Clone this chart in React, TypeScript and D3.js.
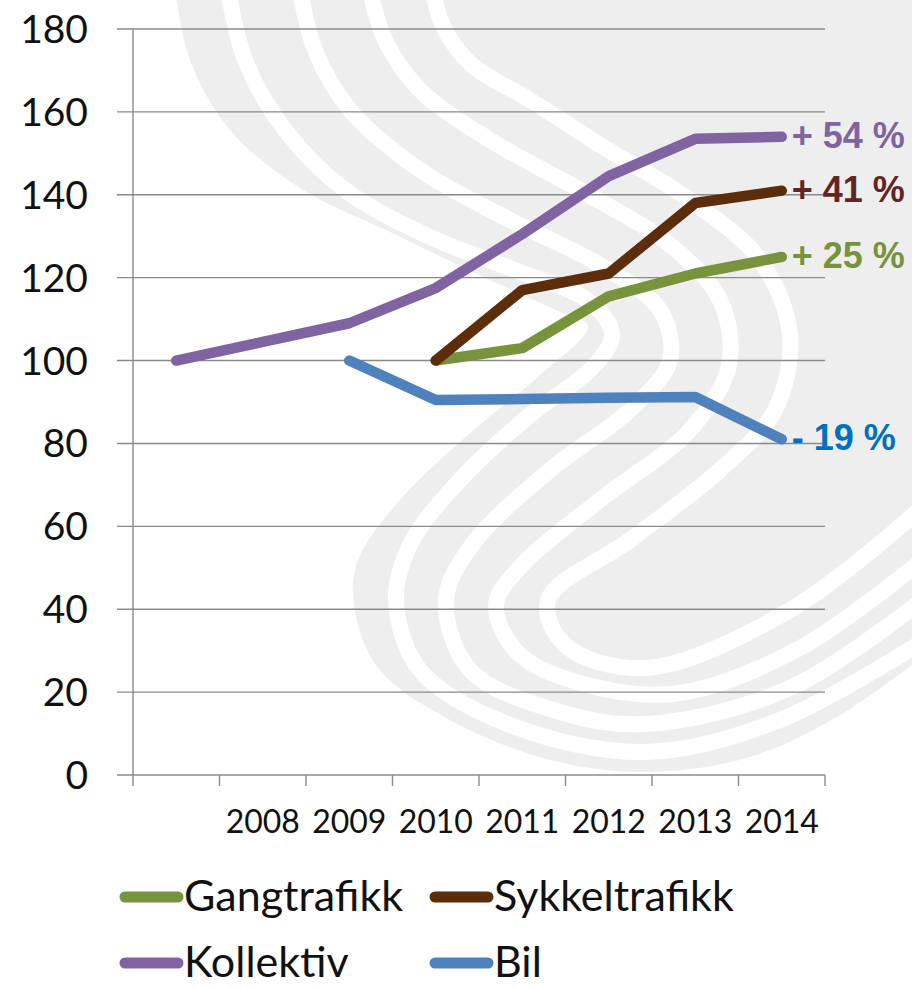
import React from "react";
import * as d3 from "d3";

const categories = ["", "2008", "2009", "2010", "2011", "2012", "2013", "2014"];
const gangtrafikk = [null, null, null, 100, 103, 115.5, 121, 125];
const sykkeltrafikk = [null, null, null, 100, 117, 121, 138, 141];
const kollektiv = [100, 104.5, 109, 117.5, 130.5, 144.5, 153.5, 154];
const bil = [null, null, 100, 90.5, 90.7, 91, 91.2, 81];
const seriesNames = ["Gangtrafikk", "Sykkeltrafikk", "Kollektiv", "Bil"];
const endLabels = ["+ 25 %", "+ 41 %", "+ 54 %", "- 19 %"];
const yTicks = [0, 20, 40, 60, 80, 100, 120, 140, 160, 180];

const lineColors = ["#77933C", "#5C2D0A", "#8064A2", "#4F81BD"];
const labelColors = ["#77933C", "#632523", "#8064A2", "#0070C0"];

// decorative watermark (background logo) shapes
const wmOuter: [number, number][] = [
  [175, -10], [190, 60], [230, 130], [300, 188], [390, 232], [490, 280], [560, 312], [588, 326],
  [540, 375], [470, 433], [400, 500], [358, 560], [354, 605], [378, 668], [450, 720], [550, 760],
  [646, 772], [750, 757], [840, 715], [925, 655],
];
const wmStripes: [number, number][][] = [
  [[228, -10], [245, 60], [285, 130], [345, 190], [430, 237], [520, 272], [590, 302], [612, 335], [592, 368], [530, 415], [460, 480], [410, 545], [396, 600], [420, 670], [510, 725], [646, 752], [780, 720], [925, 640]],
  [[300, -10], [315, 50], [350, 110], [420, 170], [510, 220], [600, 265], [660, 310], [670, 360], [630, 410], [550, 470], [472, 545], [446, 600], [470, 670], [560, 712], [646, 724], [790, 688], [925, 598]],
  [[370, -10], [385, 40], [420, 90], [490, 140], [580, 190], [670, 245], [720, 300], [729, 365], [690, 430], [600, 500], [522, 565], [496, 605], [520, 655], [600, 688], [680, 693], [800, 648], [925, 558]],
  [[432, -10], [445, 30], [472, 65], [530, 100], [600, 145], [690, 200], [760, 260], [790, 335], [775, 410], [720, 470], [630, 540], [548, 600], [565, 645], [646, 668], [790, 610], [925, 505]],
];

const W = 912;
const H = 988;
const left = 133;
const right = 825;
const top = 29;
const bottom = 775;

export default function App() {
  const x = d3.scaleBand<string>().domain(categories).range([left, right]).padding(0);
  const y = d3.scaleLinear().domain([0, 180]).range([bottom, top]);
  const cx = (i: number) => (x(categories[i]) as number) + x.bandwidth() / 2;

  const series = [gangtrafikk, sykkeltrafikk, kollektiv, bil];
  const line = d3
    .line<number | null>()
    .defined((d) => d !== null)
    .x((_, i) => cx(i))
    .y((d) => y(d as number));

  const smooth = d3.line().curve(d3.curveCatmullRom.alpha(0.5));
  const outerPath = smooth(wmOuter) + "L930,655L930,-20L175,-20Z";

  const tickEdges = categories.map((c) => x(c) as number).concat([right]);

  return (
    <svg
      width={W}
      height={H}
      style={{ position: "absolute", left: 0, top: 0, background: "#fff" }}
    >
      <g>
        <path d={outerPath} fill="#eeeeee" />
        {wmStripes.map((s, i) => (
          <path key={i} d={smooth(s) as string} fill="none" stroke="#ffffff" strokeWidth={16} strokeLinecap="round" />
        ))}
      </g>

      {yTicks.map((t) => (
        <g key={t}>
          <line x1={117} x2={right} y1={y(t)} y2={y(t)} stroke="#8a8a8a" strokeWidth={1.4} />
          <text
            x={88}
            y={y(t) + 14}
            textAnchor="end"
            fontFamily="Lato"
            fontSize={39}
            fill="#111"
          >
            {t}
          </text>
        </g>
      ))}
      <line x1={left} x2={left} y1={top} y2={bottom} stroke="#8a8a8a" strokeWidth={1.4} />
      {tickEdges.map((e, i) => (
        <line key={i} x1={e} x2={e} y1={bottom} y2={bottom + 11} stroke="#8a8a8a" strokeWidth={1.4} />
      ))}
      {categories.map((c, i) => (
        <text
          key={i}
          x={cx(i)}
          y={833}
          textAnchor="middle"
          fontFamily="Lato"
          fontSize={32}
          fill="#111"
        >
          {c}
        </text>
      ))}

      {series.map((s, i) => (
        <path
          key={i}
          d={line(s) as string}
          fill="none"
          stroke={lineColors[i]}
          strokeWidth={10.5}
          strokeLinecap="round"
          strokeLinejoin="round"
        />
      ))}

      {series.map((s, i) => {
        const last = s.length - 1;
        return (
          <text
            key={i}
            x={cx(last) + 10}
            y={y(s[last] as number) + 11}
            fontFamily="Liberation Sans, Arial"
            fontWeight="bold"
            fontSize={36}
            fill={labelColors[i]}
          >
            {endLabels[i]}
          </text>
        );
      })}

      {seriesNames.map((n, i) => {
        const col = i % 2;
        const row = Math.floor(i / 2);
        const lx = 120 + col * 310;
        const ly = 897 + row * 66;
        return (
          <g key={n}>
            <line x1={lx + 5} x2={lx + 58} y1={ly} y2={ly} stroke={lineColors[i]} strokeWidth={11} strokeLinecap="round" />
            <text x={lx + 64} y={ly + 14} fontFamily="Lato" fontSize={43} fill="#111">
              {n}
            </text>
          </g>
        );
      })}
    </svg>
  );
}
